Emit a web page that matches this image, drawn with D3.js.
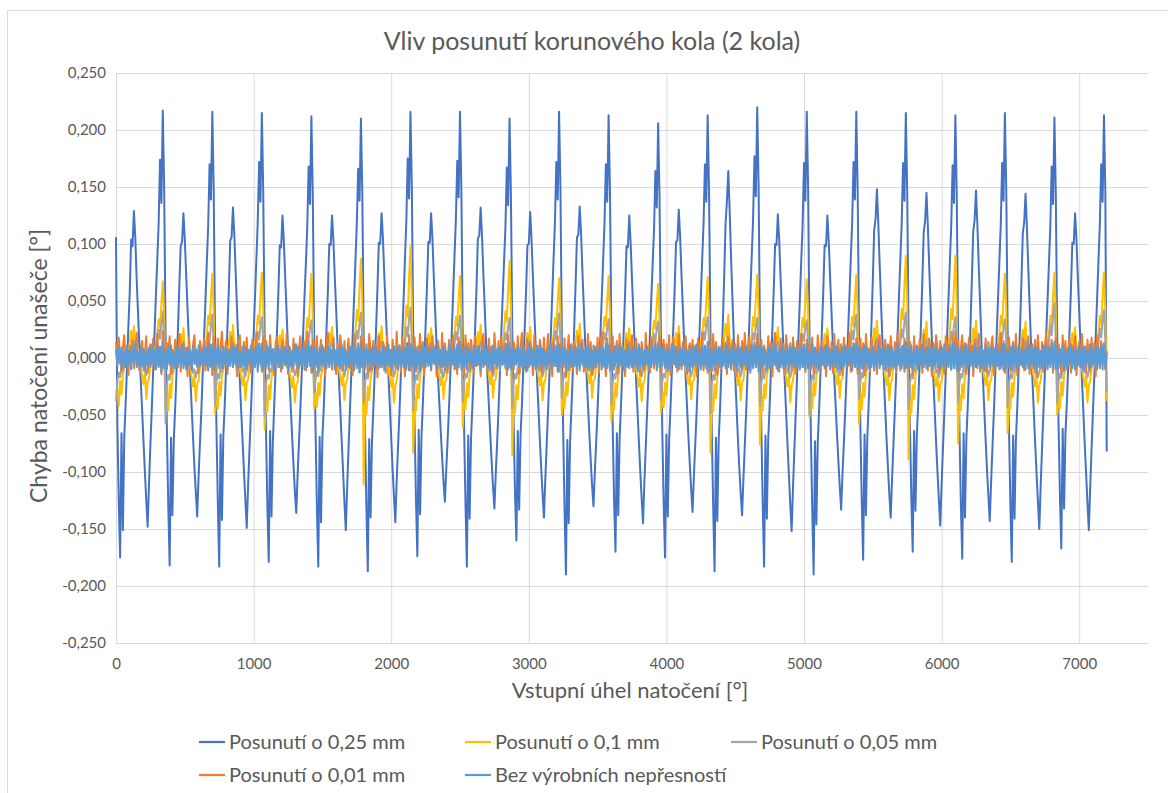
<!DOCTYPE html>
<html>
<head>
<meta charset="utf-8">
<script src="https://cdn.jsdelivr.net/npm/d3@7"></script>
<style>
  body { margin: 0; background: #fff; }
  text { font-family: Lato, "Open Sans", sans-serif; fill: #595959; }
</style>
</head>
<body>
<div id="chart"></div>
<script>
// series, in legend order
const seriesNames = ['Posunutí o 0,25 mm', 'Posunutí o 0,1 mm', 'Posunutí o 0,05 mm',
  'Posunutí o 0,01 mm', 'Bez výrobních nepřesností'];
const seriesColors = ['#4472C4', '#FFC000', '#A5A5A5', '#ED7D31', '#5B9BD5'];

// values in thousandths of a degree, one sample every 10°, one row per 360°
const shift025 = [
  106,-58,-126,-175,-66,-151,-70,-40,-8,28,58,104,98,129,106,70,40,10,-20,-46,-74,-100,-125,-148,-110,-76,-45,-12,22,55,86,118,174,136,217,150,
  22,-64,-130,-182,-70,-138,-72,-44,-12,24,62,98,102,127,104,73,43,13,-16,-44,-70,-96,-118,-139,-104,-75,-47,-14,18,50,84,116,170,139,216,148,
  18,-60,-127,-183,-67,-142,-68,-42,-9,27,60,103,106,132,108,74,41,11,-19,-47,-73,-99,-124,-149,-112,-80,-49,-16,19,53,86,119,172,137,215,146,
  24,-63,-129,-179,-64,-139,-73,-41,-11,23,57,99,97,125,102,70,39,9,-17,-43,-69,-94,-117,-136,-102,-74,-44,-13,21,54,83,115,168,135,212,144,
  21,-61,-131,-183,-69,-144,-70,-43,-10,26,59,100,99,125,103,71,42,12,-18,-45,-72,-99,-126,-151,-113,-79,-46,-14,20,52,85,117,166,138,210,145,
  19,-66,-133,-187,-71,-140,-74,-45,-13,25,61,101,100,127,105,72,44,14,-15,-42,-70,-97,-121,-144,-107,-77,-48,-15,18,51,87,120,175,140,216,149,
  23,-59,-124,-174,-63,-137,-69,-40,-7,28,63,102,101,127,104,70,40,10,-16,-40,-64,-87,-108,-126,-98,-72,-44,-12,22,56,89,121,173,141,216,147,
  20,-62,-128,-183,-68,-141,-71,-42,-10,26,62,105,107,132,107,73,43,12,-17,-42,-67,-91,-113,-132,-101,-74,-45,-13,20,53,84,114,167,134,210,143,
  22,-58,-120,-160,-64,-133,-68,-41,-9,25,58,99,100,128,104,71,41,11,-18,-44,-71,-96,-119,-140,-106,-76,-46,-14,21,54,87,119,172,139,216,148,
  19,-65,-134,-190,-72,-145,-73,-44,-12,27,64,106,108,133,109,75,44,13,-15,-41,-66,-90,-112,-130,-100,-73,-45,-13,19,52,85,117,170,137,213,146,
  21,-62,-126,-170,-66,-138,-70,-42,-9,24,57,98,97,125,101,69,39,10,-19,-46,-73,-99,-123,-145,-109,-78,-47,-15,19,51,82,112,164,132,206,142,
  20,-63,-127,-175,-67,-139,-71,-43,-10,26,60,102,103,130,106,72,42,12,-17,-43,-69,-93,-115,-135,-103,-75,-46,-14,20,53,86,118,170,137,213,145,
  23,-65,-130,-187,-70,-143,-72,-44,-8,30,72,118,138,164,128,88,52,17,-15,-44,-72,-97,-119,-138,-105,-76,-46,-13,22,56,89,122,177,142,220,151,
  20,-63,-129,-183,-68,-141,-71,-43,-10,25,59,100,99,126,103,70,40,9,-20,-48,-75,-102,-128,-152,-114,-80,-48,-15,19,52,85,117,171,138,216,148,
  18,-67,-134,-190,-73,-146,-74,-45,-12,24,58,99,98,125,102,70,40,11,-17,-42,-67,-91,-113,-133,-101,-74,-45,-13,21,54,87,119,172,139,216,147,
  22,-62,-127,-177,-67,-138,-70,-41,-7,29,68,112,122,148,118,82,48,15,-16,-44,-71,-96,-119,-140,-106,-76,-46,-14,20,53,86,118,171,138,215,146,
  21,-59,-123,-170,-64,-134,-68,-40,-6,30,67,110,120,145,116,80,46,14,-18,-46,-74,-100,-124,-147,-111,-79,-47,-14,20,52,84,116,169,136,213,144,
  19,-63,-128,-176,-66,-140,-71,-42,-8,28,69,111,121,147,117,81,47,13,-17,-45,-72,-98,-121,-143,-108,-77,-47,-14,19,52,85,117,171,138,215,147,
  22,-64,-129,-179,-68,-141,-72,-43,-9,27,66,109,119,144,115,79,45,12,-19,-47,-75,-101,-126,-150,-112,-79,-47,-15,19,51,83,115,168,135,211,143,
  20,-58,-121,-167,-62,-132,-67,-40,-8,25,60,101,100,127,104,71,41,10,-19,-47,-75,-101,-127,-151,-113,-79,-47,-15,19,52,85,117,170,137,213,145,
  -82
];

const shift010 = [
  -30,-28,-42,-20,-32,-14,-9,-1,7,3,13,24,11,28,9,5,-5,3,-8,-15,-23,-13,-36,-21,-18,-6,4,-3,7,12,22,34,27,48,67,36,
  -43,-31,-46,-23,-35,-16,-11,-3,5,1,11,21,9,26,7,3,-7,1,-10,-17,-25,-15,-38,-23,-20,-8,2,-5,5,10,20,37,29,53,74,41,
  -49,-29,-44,-21,-33,-15,-10,-2,6,2,12,23,10,29,8,4,-6,2,-9,-16,-24,-14,-37,-22,-19,-7,3,-4,6,11,21,37,30,54,75,42,
  -63,-33,-47,-24,-36,-17,-12,-4,4,0,10,20,8,25,6,2,-8,0,-11,-18,-26,-16,-39,-24,-21,-9,1,-6,4,9,19,35,27,52,74,40,
  -45,-30,-43,-22,-33,-15,-10,-2,6,2,12,22,10,27,8,4,-6,2,-9,-16,-24,-14,-37,-22,-19,-7,3,-4,6,11,23,42,33,62,87,45,
  -111,-36,-49,-25,-37,-17,-12,-3,5,1,11,22,9,28,7,3,-7,1,-10,-17,-25,-15,-39,-24,-20,-8,2,-5,5,12,24,46,36,70,98,50,
  -83,-34,-46,-23,-35,-15,-10,-2,6,2,12,21,10,26,8,4,-6,2,-9,-16,-24,-13,-36,-22,-19,-7,3,-4,6,11,21,36,28,51,72,39,
  -61,-31,-45,-22,-34,-15,-11,-2,6,3,12,23,11,29,9,5,-5,3,-8,-15,-23,-13,-35,-21,-18,-6,4,-3,7,12,23,41,32,60,85,44,
  -85,-35,-48,-24,-36,-16,-10,-2,6,2,12,22,10,27,8,4,-6,2,-9,-16,-24,-14,-37,-22,-19,-7,3,-4,6,11,21,35,27,50,70,38,
  -50,-30,-44,-21,-33,-15,-10,-1,7,3,13,24,11,30,9,5,-5,3,-8,-15,-22,-12,-35,-20,-18,-6,4,-3,7,12,22,36,28,51,72,39,
  -55,-31,-45,-22,-34,-14,-9,-2,6,2,12,22,9,26,7,3,-7,1,-10,-17,-25,-15,-38,-23,-20,-8,2,-5,5,10,20,33,26,47,65,35,
  -48,-30,-43,-22,-33,-15,-10,-2,6,2,12,22,10,28,8,4,-6,2,-9,-16,-23,-13,-36,-21,-19,-7,3,-4,6,11,21,35,28,50,71,38,
  -83,-34,-47,-23,-35,-16,-8,0,9,6,17,30,18,38,14,8,-4,3,-9,-16,-24,-14,-37,-22,-19,-7,3,-4,6,11,21,36,28,52,73,39,
  -76,-33,-46,-23,-35,-15,-10,-2,6,2,12,22,10,27,8,4,-6,2,-10,-17,-25,-15,-39,-24,-20,-8,2,-5,5,11,21,35,27,49,69,37,
  -52,-30,-44,-21,-33,-15,-10,-2,6,2,12,21,9,26,7,3,-7,1,-8,-15,-23,-12,-35,-20,-18,-6,4,-3,7,12,22,36,28,52,73,39,
  -58,-31,-45,-22,-34,-15,-9,-1,7,4,14,26,14,33,11,6,-5,2,-9,-16,-24,-14,-37,-22,-19,-7,3,-4,6,11,24,43,34,64,90,47,
  -89,-35,-48,-24,-36,-16,-9,-1,7,4,14,25,13,32,10,5,-5,2,-10,-17,-25,-15,-38,-23,-20,-8,2,-5,5,11,24,43,34,64,90,47,
  -75,-33,-46,-23,-35,-15,-9,-1,7,4,14,26,14,33,11,6,-5,2,-9,-16,-24,-14,-37,-22,-19,-7,3,-4,6,11,21,37,29,53,74,40,
  -66,-32,-45,-22,-34,-15,-9,-1,7,3,13,25,13,32,10,5,-5,2,-10,-17,-25,-15,-39,-24,-20,-8,2,-5,5,11,21,37,29,54,75,41,
  -50,-30,-44,-21,-33,-15,-10,-2,6,2,12,22,10,27,8,4,-6,2,-10,-17,-25,-15,-39,-24,-20,-8,2,-5,5,11,21,37,29,54,75,41,
  -38
];

const shift005 = [
  -38,-20,-13,-17,-7,-11,-3,4,-5,6,-1,8,11,15,7,-2,5,-4,-7,-2,-11,-8,-15,-10,-5,3,-3,6,0,9,13,25,17,31,41,15,
  -57,-24,-15,-19,-9,-13,-5,2,-7,4,-3,6,9,13,5,-4,3,-6,-9,-4,-13,-10,-17,-12,-7,1,-5,4,-2,7,11,22,15,28,38,12,
  -42,-21,-14,-18,-8,-12,-4,3,-6,5,-2,7,10,14,6,-3,4,-5,-8,-3,-12,-9,-16,-11,-6,2,-4,5,-1,8,12,23,16,29,36,13,
  -51,-23,-15,-18,-9,-12,-4,3,-6,5,-2,7,10,13,6,-3,4,-5,-8,-3,-12,-9,-15,-11,-6,2,-4,5,-1,8,12,21,15,27,33,12,
  -31,-19,-12,-16,-7,-11,-3,4,-5,6,-1,8,11,14,7,-2,5,-4,-7,-2,-11,-8,-16,-10,-5,3,-3,6,0,9,13,24,17,31,40,14,
  -40,-22,-14,-18,-8,-12,-4,3,-6,5,-2,7,10,14,6,-3,4,-5,-8,-3,-12,-9,-16,-11,-6,2,-4,5,-1,8,14,27,19,35,44,15,
  -46,-23,-15,-19,-9,-13,-5,2,-7,4,-3,6,9,13,5,-4,3,-6,-9,-4,-13,-10,-17,-12,-7,1,-5,4,-2,7,12,23,16,29,37,13,
  -38,-21,-14,-17,-8,-12,-4,3,-6,5,-2,7,10,14,6,-3,4,-5,-8,-3,-12,-9,-16,-11,-6,2,-4,5,-1,8,12,22,16,28,35,13,
  -44,-22,-14,-18,-8,-12,-4,3,-6,5,-2,7,10,15,6,-3,4,-5,-8,-3,-12,-9,-16,-11,-6,2,-4,5,-1,8,12,24,16,30,39,14,
  -35,-20,-13,-17,-8,-11,-3,4,-5,6,-1,8,11,15,7,-2,5,-4,-7,-2,-11,-8,-15,-10,-5,3,-3,6,0,9,12,22,15,27,34,13,
  -41,-22,-14,-18,-8,-12,-4,3,-6,5,-2,7,10,14,6,-3,4,-5,-8,-3,-12,-9,-16,-11,-6,2,-4,5,-1,8,11,21,15,26,32,12,
  -37,-21,-14,-17,-8,-12,-4,3,-6,5,-2,7,10,14,6,-3,4,-5,-8,-3,-12,-9,-16,-11,-6,2,-4,5,-1,8,12,23,16,29,36,13,
  -48,-23,-15,-19,-9,-13,-3,5,-4,8,1,11,15,19,9,-1,5,-4,-8,-3,-12,-9,-16,-11,-6,2,-4,5,-1,8,12,22,16,28,35,13,
  -42,-22,-14,-18,-8,-12,-4,3,-6,5,-2,7,10,14,6,-3,4,-5,-9,-4,-13,-10,-17,-12,-7,1,-5,4,-2,7,11,21,15,27,33,12,
  -50,-23,-15,-19,-9,-13,-4,3,-6,5,-2,7,10,14,6,-3,4,-5,-8,-3,-12,-9,-15,-11,-6,2,-4,5,-1,8,12,24,16,30,38,14,
  -36,-21,-13,-17,-8,-11,-3,4,-5,7,0,9,13,17,8,-2,5,-4,-8,-3,-12,-9,-16,-11,-6,2,-4,5,-1,8,13,25,18,32,40,14,
  -45,-22,-14,-18,-8,-12,-3,4,-5,7,0,9,12,16,8,-2,5,-4,-9,-4,-13,-10,-17,-12,-7,1,-5,4,-2,7,12,23,16,29,36,13,
  -39,-21,-14,-17,-8,-12,-3,4,-5,7,0,9,13,17,8,-2,5,-4,-8,-3,-12,-9,-16,-11,-6,2,-4,5,-1,8,12,22,16,28,34,13,
  -43,-22,-14,-18,-8,-12,-3,4,-5,6,0,9,12,16,8,-2,5,-4,-9,-4,-13,-10,-17,-12,-7,1,-5,4,-2,7,14,29,20,37,48,16,
  -40,-21,-14,-18,-8,-12,-4,3,-6,5,-2,7,10,14,6,-3,4,-5,-9,-4,-13,-10,-17,-12,-7,1,-5,4,-2,7,13,26,18,33,42,15,
  -30
];

const shift001 = [
  14,-6,18,3,-12,9,20,-4,7,-15,11,2,16,-9,5,22,-3,-11,8,15,-7,4,19,-13,6,12,-5,17,-10,3,21,-8,10,-14,24,-2,
  -9,13,4,19,-14,7,-3,16,10,-8,21,-12,5,14,-6,9,-16,18,2,-10,12,20,-5,6,-13,15,8,-2,17,-11,4,22,-7,11,-15,19,
  6,-12,17,-4,10,23,-9,3,15,-14,8,-1,19,-7,12,4,-16,11,20,-6,2,14,-10,18,-3,7,-13,16,9,-8,22,-5,13,1,-12,18,
  -4,15,9,-11,20,-2,7,-15,13,18,-8,5,-12,16,3,-6,21,-14,10,6,-9,17,-3,12,-16,8,19,-7,4,14,-11,23,-1,9,-13,16,
  11,-7,19,-13,4,16,-2,9,-16,14,22,-5,7,-10,18,1,-14,12,-4,20,8,-11,15,-6,3,17,-9,10,-15,21,5,-3,13,-12,19,-8,
  17,-3,8,-14,21,6,-10,15,-5,12,-17,19,2,-8,14,9,-13,20,-1,7,-15,16,4,-9,23,-6,11,-12,18,3,-16,13,-4,20,-11,9,
  -6,18,-12,10,3,21,-8,14,-15,6,17,-4,12,-11,19,-2,8,-16,15,5,-9,22,-7,13,1,-13,16,-5,10,20,-10,4,-14,18,-3,12,
  9,-15,20,-4,13,-10,16,2,-13,19,-7,11,5,-16,14,21,-6,8,-12,17,-2,10,-14,22,4,-9,15,-11,18,-5,7,13,-15,20,-8,6,
  -11,14,7,-5,19,-14,10,22,-3,6,-12,17,-8,13,3,-15,20,-1,11,-10,16,8,-13,18,-6,4,21,-9,12,-16,15,2,-7,19,-12,10,
  13,-8,17,-16,5,20,-3,12,-11,15,1,-14,19,-6,9,16,-12,7,-2,21,-9,14,-15,11,6,-4,18,-13,10,23,-7,3,-16,17,-1,11,
  -2,19,-10,8,15,-14,21,-5,11,3,-16,16,-8,13,-1,20,-12,6,17,-7,9,-15,14,2,-11,22,-4,10,-13,18,5,-9,15,-6,12,19,
  -13,7,16,-9,12,-3,20,-15,4,18,-6,10,-12,21,2,-10,14,-4,19,-14,8,13,-7,16,-1,11,-16,17,6,-8,22,-11,9,3,-13,15,
  8,-12,21,-6,14,-15,10,4,-9,17,-2,13,-14,19,7,-5,16,-11,12,-16,20,1,-8,15,-3,22,-10,6,18,-13,11,-4,14,-7,21,-1,
  -7,16,-13,11,3,-10,19,-4,14,-16,8,22,-9,5,-12,17,-1,12,-15,20,6,-7,13,-11,18,2,-14,15,-5,9,21,-8,4,-12,16,7,
  12,-4,18,-14,9,-8,20,3,-11,15,-6,11,-16,19,1,-9,14,-13,21,-3,7,16,-10,12,-15,18,-2,10,-7,22,-12,5,13,-5,17,-14,
  5,17,-9,13,-15,21,-2,8,-12,18,4,-7,15,-14,11,20,-5,9,-10,16,-1,12,-16,19,3,-8,14,-13,22,6,-11,10,-4,17,-9,13,
  -10,14,2,-15,19,-5,11,-9,16,7,-13,21,-3,10,-11,17,4,-16,13,-6,20,9,-12,15,-2,8,-14,19,-7,12,1,-10,18,-4,23,-8,
  15,-11,9,20,-6,13,-14,4,18,-3,11,-16,16,6,-9,21,-12,8,2,-7,17,-13,14,-4,10,19,-15,7,-1,12,-10,22,-6,15,-13,9,
  -3,18,-12,7,14,-8,21,-15,10,3,-6,17,-11,13,-2,19,-14,5,12,-9,16,-16,20,1,-5,14,-12,9,22,-7,11,-3,16,-13,8,18,
  -9,12,4,-14,20,-6,15,-10,8,17,-13,11,-2,19,-15,6,14,-8,21,-4,10,-12,16,3,-11,18,-5,13,-16,20,7,-9,15,-3,12,-10,
  6
];

const noErrors = [
  8,-7,10,-5,9,-9,6,-8,11,-6,7,-10,9,-4,12,-8,5,-9,10,-7,8,-11,6,-6,9,-8,11,-5,7,-10,12,-7,9,-12,14,-9,
  7,-10,9,-6,11,-8,5,-9,10,-7,8,-5,12,-9,6,-10,9,-6,7,-11,10,-5,8,-8,11,-7,6,-9,10,-6,9,-11,13,-8,12,-10,
  9,-6,11,-9,7,-8,10,-5,8,-10,6,-7,11,-8,9,-6,12,-9,5,-8,10,-7,9,-10,7,-5,11,-9,8,-7,10,-12,12,-6,13,-11,
  6,-9,10,-7,12,-6,8,-10,9,-5,11,-8,7,-9,10,-6,8,-11,9,-7,6,-8,12,-6,10,-9,7,-7,9,-10,11,-8,14,-7,11,-12,
  10,-8,7,-11,9,-6,11,-7,6,-9,10,-8,8,-5,12,-10,7,-7,9,-9,11,-6,8,-10,6,-8,10,-5,9,-11,12,-9,10,-13,13,-8,
  8,-9,12,-6,7,-10,9,-7,11,-5,8,-9,6,-8,10,-11,9,-6,12,-7,7,-9,10,-6,8,-10,11,-7,6,-8,9,-10,13,-11,12,-7,
  11,-7,8,-9,6,-11,10,-6,9,-8,12,-7,7,-10,8,-5,11,-9,9,-6,7,-8,10,-11,6,-7,12,-9,8,-6,10,-9,12,-8,14,-10,
  7,-8,10,-10,9,-5,6,-9,11,-7,8,-6,10,-11,7,-8,12,-6,9,-9,6,-10,11,-5,8,-7,9,-11,10,-6,7,-9,12,-10,13,-9,
  9,-10,7,-6,11,-8,8,-7,10,-9,6,-11,12,-6,9,-8,7,-10,10,-5,11,-9,8,-7,6,-10,9,-6,12,-8,10,-7,11,-12,12,-8,
  10,-6,9,-9,7,-10,11,-8,6,-7,10,-9,8,-11,12,-6,7,-8,9,-10,11,-7,6,-9,10,-8,8,-5,11,-10,9,-8,13,-9,11,-11,
  6,-11,10,-7,8,-8,12,-6,9,-10,7,-7,11,-9,6,-8,10,-6,8,-11,12,-7,9,-9,7,-6,10,-10,8,-8,11,-6,12,-11,13,-8,
  9,-7,11,-8,6,-10,8,-9,12,-5,10,-8,7,-10,9,-7,11,-6,8,-9,6,-11,10,-8,9,-6,12,-9,7,-10,10,-7,11,-9,14,-11,
  8,-9,7,-11,10,-6,9,-8,11,-7,6,-9,12,-8,8,-10,10,-6,7,-9,11,-7,9,-10,8,-6,10,-8,6,-11,12,-9,10,-8,13,-12,
  11,-8,9,-6,7,-10,10,-9,8,-7,12,-6,9,-11,7,-8,10,-9,6,-7,11,-10,8,-6,12,-8,9,-9,7,-10,10,-8,12,-10,12,-9,
  7,-10,12,-7,9,-8,6,-11,10,-6,8,-9,11,-7,9,-10,7,-6,12,-8,10,-9,6,-10,9,-7,11,-8,8,-6,10,-11,13,-8,12,-10,
  10,-7,8,-10,11,-6,9,-9,7,-8,10,-11,6,-7,12,-9,8,-6,10,-10,7,-8,11,-7,9,-9,6,-10,12,-6,8,-9,11,-12,14,-8,
  8,-8,11,-9,6,-7,10,-10,9,-6,12,-8,7,-9,10,-7,8,-11,11,-6,9,-8,7,-10,10,-7,12,-9,6,-8,11,-10,12,-9,13,-11,
  9,-11,7,-8,10,-6,12,-9,8,-7,6,-10,11,-8,9,-6,10,-9,7,-11,12,-7,8,-8,10,-6,9,-10,11,-7,7,-9,12,-11,12,-9,
  6,-8,10,-10,12,-7,8,-9,11,-6,9,-8,7,-10,10,-9,12,-6,8,-7,10,-11,9,-8,6,-9,11,-7,10,-10,8,-8,13,-9,14,-10,
  10,-9,8,-7,11,-10,7,-8,9,-6,12,-9,8,-10,6,-7,11,-8,9,-11,10,-6,7,-9,12,-8,8,-6,10,-10,9,-7,12,-10,13,-9,
  4
];

const seriesValues = [shift025, shift010, shift005, shift001, noErrors];
const angles = d3.range(0, 7201, 10);   // sample positions, °
const xTicks = [0, 1000, 2000, 3000, 4000, 5000, 6000, 7000];
const yTicks = [-0.25, -0.2, -0.15, -0.1, -0.05, 0, 0.05, 0.1, 0.15, 0.2, 0.25];

const chartTitle = 'Vliv posunutí korunového kola (2 kola)';
const xTitle = 'Vstupní úhel natočení [°]';
const yTitle = 'Chyba natočení unašeče [°]';

const W = 1168, H = 793;
const margin = {top: 73, left: 116, right: 20, bottom: 150};
const plotW = W - margin.left - margin.right,
  plotH = H - margin.top - margin.bottom;

const cz = d3.formatLocale({decimal: ',', thousands: ' ', grouping: [3], currency: ['', ''], minus: '-'});
const yFmt = cz.format('.3f');

const svg = d3.select('#chart').append('svg')
  .attr('width', W).attr('height', H);

// chart frame
svg.append('rect')
  .attr('x', 7.5).attr('y', 10.5)
  .attr('width', 1300).attr('height', 900)
  .attr('fill', 'none').attr('stroke', '#D9D9D9');

const g = svg.append('g').attr('transform', 'translate(' + margin.left + ',' + margin.top + ')');

const x = d3.scaleLinear().domain([0, 7500]).range([0, plotW]);
const y = d3.scaleLinear().domain([-0.25, 0.25]).range([plotH, 0]);

// gridlines + tick labels
const yAxis = g.append('g')
  .call(d3.axisLeft(y).tickValues(yTicks).tickFormat(yFmt).tickSize(-plotW).tickPadding(10));
const xAxis = g.append('g')
  .attr('transform', 'translate(0,' + plotH + ')')
  .call(d3.axisBottom(x).tickValues(xTicks).tickFormat(d => d).tickSize(-plotH).tickPadding(15));

[xAxis, yAxis].forEach(a => {
  a.select('.domain').remove();
  a.selectAll('line').attr('stroke', '#D9D9D9');
  a.selectAll('text').style('font-size', '15px').attr('fill', '#595959');
});

// series, first one at the bottom
const line = d3.line()
  .x((d, i) => x(angles[i]))
  .y(d => y(d / 1000));

seriesValues.forEach((vals, s) => {
  g.append('path')
    .datum(vals)
    .attr('d', line)
    .attr('fill', 'none')
    .attr('stroke', seriesColors[s])
    .attr('stroke-width', 2)
    .attr('stroke-linejoin', 'round');
});

// titles
svg.append('text')
  .attr('x', 592).attr('y', 50)
  .attr('text-anchor', 'middle')
  .style('font-size', '25px')
  .text(chartTitle);

svg.append('text')
  .attr('x', margin.left + plotW / 2 - 2).attr('y', 698)
  .attr('text-anchor', 'middle')
  .style('font-size', '22px')
  .text(xTitle);

svg.append('text')
  .attr('transform', 'translate(47,366) rotate(-90)')
  .attr('text-anchor', 'middle')
  .style('font-size', '23px')
  .text(yTitle);

// legend
const legendPos = [[199, 742], [465, 742], [731, 742], [199, 775], [465, 775]];
const legend = svg.selectAll('.legend')
  .data(seriesNames)
  .enter().append('g')
  .attr('class', 'legend')
  .attr('transform', (d, i) => 'translate(' + legendPos[i][0] + ',' + legendPos[i][1] + ')');

legend.append('line')
  .attr('x1', 0).attr('x2', 26)
  .attr('y1', 0).attr('y2', 0)
  .attr('stroke', (d, i) => seriesColors[i])
  .attr('stroke-width', 2.2);

legend.append('text')
  .attr('x', 30).attr('y', 0)
  .attr('dy', '0.35em')
  .style('font-size', '20px')
  .text(d => d);
</script>
</body>
</html>
